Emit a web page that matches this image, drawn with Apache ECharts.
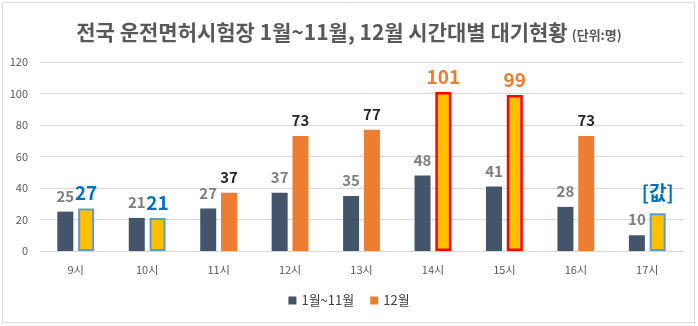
<!DOCTYPE html>
<html>
<head>
<meta charset="utf-8">
<script src="https://cdn.jsdelivr.net/npm/echarts@6/dist/echarts.min.js"></script>
<style>
  html, body { margin: 0; padding: 0; background: #fff; }
  #chart { width: 698px; height: 326px; }
</style>
</head>
<body>
<div id="chart"></div>
<script>
// Hour slots at the licence test centres
const hours = ['9시', '10시', '11시', '12시', '13시', '14시', '15시', '16시', '17시'];
// Average waiting people, January–November
const janToNov = [25, 21, 27, 37, 35, 48, 41, 28, 10];
// Waiting people in December
const december = [27, 21, 37, 73, 77, 101, 99, 73, 24];
const seriesNames = ['1월~11월', '12월'];

const FONT = '"Noto Sans CJK KR", "Noto Sans", sans-serif';

// Visual styling per December bar: highlighted (yellow) vs plain (orange)
function decStyle(i) {
  const h = hours[i];
  if (h === '14시' || h === '15시') {
    return {
      itemStyle: { color: '#FFC000', borderColor: '#FF0000', borderWidth: 2.5 },
      label: { color: '#ED7D31', fontSize: 19, distance: 6 }
    };
  }
  if (h === '9시' || h === '10시') {
    return {
      itemStyle: { color: '#FFC000', borderColor: '#5B9BD5', borderWidth: 2 },
      label: { color: '#0070C0', fontSize: 19, distance: 6 }
    };
  }
  if (h === '17시') {
    return {
      itemStyle: { color: '#FFC000', borderColor: '#5B9BD5', borderWidth: 2 },
      label: { color: '#0070C0', fontSize: 19, distance: 11, formatter: '[값]' }
    };
  }
  return {
    itemStyle: { color: '#ED7D31' },
    label: { color: '#262626', fontSize: 15, distance: 8 }
  };
}

const decData = december.map((v, i) => Object.assign({ value: v }, decStyle(i)));

const chart = echarts.init(document.getElementById('chart'));
chart.setOption({
  animation: false,
  textStyle: { fontFamily: FONT },
  graphic: [{
    type: 'rect',
    shape: { x: 2.5, y: 2.5, width: 692, height: 320 },
    style: { fill: 'none', stroke: '#D9D9D9', lineWidth: 1 },
    silent: true
  }],
  title: {
    left: 'center',
    top: 17,
    text: '{a|전국 운전면허시험장 1월~11월, 12월 시간대별 대기현황} {b|(단위:명)}',
    textStyle: {
      rich: {
        a: { fontFamily: FONT, fontSize: 21, fontWeight: 'bold', color: '#595959' },
        b: { fontFamily: FONT, fontSize: 13, color: '#595959', padding: [5, 0, 0, 0] }
      }
    }
  },
  legend: {
    bottom: 14,
    left: 'center',
    icon: 'rect',
    itemWidth: 8,
    itemHeight: 8,
    itemGap: 16,
    textStyle: { fontFamily: FONT, fontSize: 13, color: '#404040' },
    data: seriesNames.map((n, i) => ({ name: n, itemStyle: { color: i === 0 ? '#44546A' : '#ED7D31', borderWidth: 0 } }))
  },
  grid: { left: 40, right: 15, top: 62, bottom: 75 },
  xAxis: {
    type: 'category',
    data: hours,
    axisTick: { show: false },
    axisLine: { lineStyle: { color: '#D9D9D9', width: 1 } },
    axisLabel: { color: '#595959', fontSize: 11, margin: 13, fontFamily: FONT }
  },
  yAxis: {
    type: 'value',
    min: 0,
    max: 120,
    interval: 20,
    axisLine: { show: false },
    axisTick: { show: false },
    splitLine: { lineStyle: { color: '#D9D9D9', width: 1 } },
    axisLabel: { color: '#595959', fontSize: 11, margin: 12, fontFamily: FONT }
  },
  series: [
    {
      name: seriesNames[0],
      type: 'bar',
      barWidth: 16,
      barGap: '30%',
      itemStyle: { color: '#44546A' },
      label: {
        show: true, position: 'top', distance: 8,
        color: '#7F7F7F', fontSize: 15, fontWeight: 'bold', fontFamily: FONT
      },
      data: janToNov
    },
    {
      name: seriesNames[1],
      type: 'bar',
      barWidth: 16,
      barGap: '30%',
      label: {
        show: true, position: 'top',
        fontWeight: 'bold', fontFamily: FONT
      },
      data: decData
    }
  ]
});
</script>
</body>
</html>
